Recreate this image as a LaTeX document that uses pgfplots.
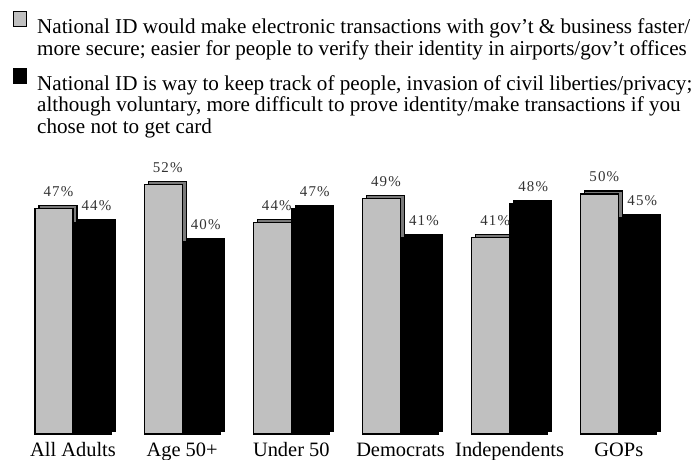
\documentclass[border=0pt]{standalone}
\usepackage{fontspec}
\setmainfont{Liberation Serif}
\usepackage{pgfplots}
\pgfplotsset{compat=1.18}
\definecolor{barg}{HTML}{C0C0C0}
\definecolor{sideg}{HTML}{7A7A7A}
\pgfplotsset{
  sqlegend/.style={legend image code/.code={\draw[##1, draw=black, line width=1bp] (0bp,0bp) rectangle (13bp,15bp);}},
  pctlabels/.style={
    nodes near coords={\pgfmathprintnumber[assume math mode=true]{\pgfplotspointmeta}\%},
    nodes near coords style={font=\fontsize{15}{15}\selectfont\addfontfeature{LetterSpace=8}, anchor=base, yshift=12bp, xshift=#1, inner sep=0pt, text=black!80}},
}
\begin{document}
\begin{tikzpicture}
\begin{axis}[
  name=ax,
  scale only axis, width=655bp, height=288bp,
  xmin=-0.5, xmax=5.5, ymin=0, ymax=60,
  axis line style={draw=none},
  ytick=\empty,
  xtick={0,...,5},
  xticklabels={All Adults, Age 50+, Under 50, Democrats, Independents, GOPs},
  major tick length=0pt,
  xticklabel style={font=\fontsize{20.5}{24}\selectfont, anchor=base, yshift=-22.7bp, inner sep=0pt},
  clip=false,
  legend cell align=left,
  legend style={at={(axis description cs:0,1)}, anchor=north west, xshift=-5.4bp, yshift=135bp,
    draw=none, fill=none, inner sep=0pt, row sep=33bp, column sep=10bp,
    font=\fontsize{21.2}{22}\selectfont, nodes={inner sep=0pt}},
]
% grey series: shadow then front
\addplot[ybar, bar width=38bp, bar shift=-15bp, yshift=3bp, fill=sideg, draw=black, line width=1.2bp, forget plot]
  coordinates {(0,47) (1,52) (2,44) (3,49) (4,41) (5,50)};
\addplot[ybar, bar width=38bp, bar shift=-19bp, fill=barg, draw=black, line width=1.2bp, sqlegend, pctlabels=-14.5bp]
  coordinates {(0,47) (1,52) (2,44) (3,49) (4,41) (5,50)};
\addlegendentry{\parbox[t]{690bp}{National ID would make electronic transactions with gov’t \& business faster/\\more secure; easier for people to verify their identity in airports/gov’t offices}}
% black series: shadow then front
\addplot[ybar, bar width=38bp, bar shift=23bp, yshift=3bp, fill=black, draw=black, line width=1.2bp, forget plot]
  coordinates {(0,44) (1,40) (2,47) (3,41) (4,48) (5,45)};
\addplot[ybar, bar width=38bp, bar shift=19bp, fill=black, draw=black, line width=1.2bp, sqlegend, pctlabels=23.5bp]
  coordinates {(0,44) (1,40) (2,47) (3,41) (4,48) (5,45)};
\addlegendentry{\parbox[t]{690bp}{National ID is way to keep track of people, invasion of civil liberties/privacy;\\although voluntary, more difficult to prove identity/make transactions if you\\chose not to get card}}
\end{axis}
\pgfresetboundingbox
\path ([xshift=-18.4bp, yshift=-26bp]ax.south west) rectangle ++(697bp,460bp);
\end{tikzpicture}
\end{document}
